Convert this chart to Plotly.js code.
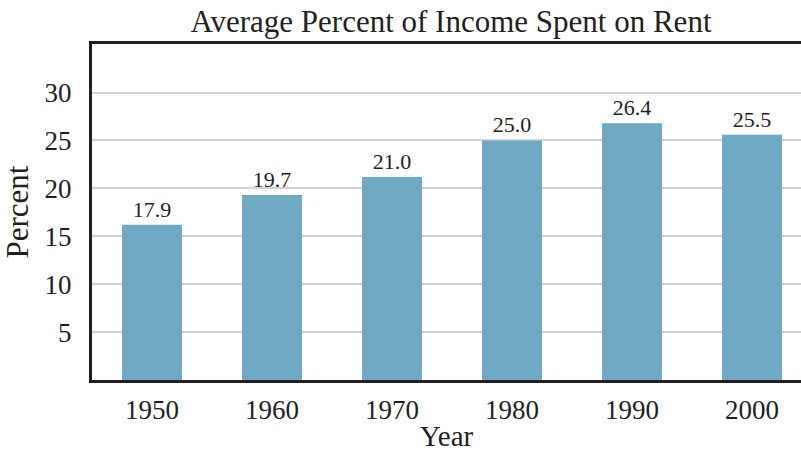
<!DOCTYPE html>
<html>
<head>
<meta charset="utf-8">
<script src="https://cdn.plot.ly/plotly-3.0.1.min.js"></script>
<style>html,body{margin:0;padding:0;background:#fff;}#chart{width:801px;height:455px;}</style>
</head>
<body>
<div id="chart"></div>
<script>
const years = ['1950', '1960', '1970', '1980', '1990', '2000'];
const barHeights = [16.2, 19.3, 21.2, 25.0, 26.8, 25.6];
const valueLabels = ['17.9', '19.7', '21.0', '25.0', '26.4', '25.5'];
const yTicks = [5, 10, 15, 20, 25, 30];

const serif = '"Liberation Serif", "DejaVu Serif", serif';
const ink = '#231f20';

Plotly.newPlot('chart', [{
  type: 'bar',
  x: years,
  y: barHeights,
  text: valueLabels,
  textposition: 'outside',
  cliponaxis: false,
  textfont: {family: serif, size: 22, color: ink},
  marker: {color: '#6fa9c4'},
  width: 0.5,
  hoverinfo: 'none'
}], {
  width: 801, height: 455,
  margin: {l: 92, r: 0, t: 44, b: 75},
  paper_bgcolor: '#fff', plot_bgcolor: '#fff',
  showlegend: false,
  title: {text: 'Average Percent of Income Spent on Rent', font: {family: serif, size: 31, color: ink},
          x: 0.563, xanchor: 'center', y: 0.953, yanchor: 'middle'},
  xaxis: {
    type: 'category', range: [-0.5, 5.408],
    showline: true, linecolor: ink, linewidth: 3, mirror: true,
    showgrid: false, ticks: '', ticklabelstandoff: 4,
    tickfont: {family: serif, size: 27, color: ink},
    title: {text: 'Year', font: {family: serif, size: 29, color: ink}, standoff: 2}
  },
  yaxis: {
    range: [0, 35.07], tickvals: yTicks,
    showline: true, linecolor: ink, linewidth: 3,
    showgrid: true, gridcolor: '#d3d3d3', gridwidth: 2,
    zeroline: false, ticks: '', ticklabelstandoff: 12,
    tickfont: {family: serif, size: 27, color: ink},
    title: {text: 'Percent', font: {family: serif, size: 31, color: ink}, standoff: 8}
  }
}, {displayModeBar: false, staticPlot: true});
</script>
</body>
</html>
